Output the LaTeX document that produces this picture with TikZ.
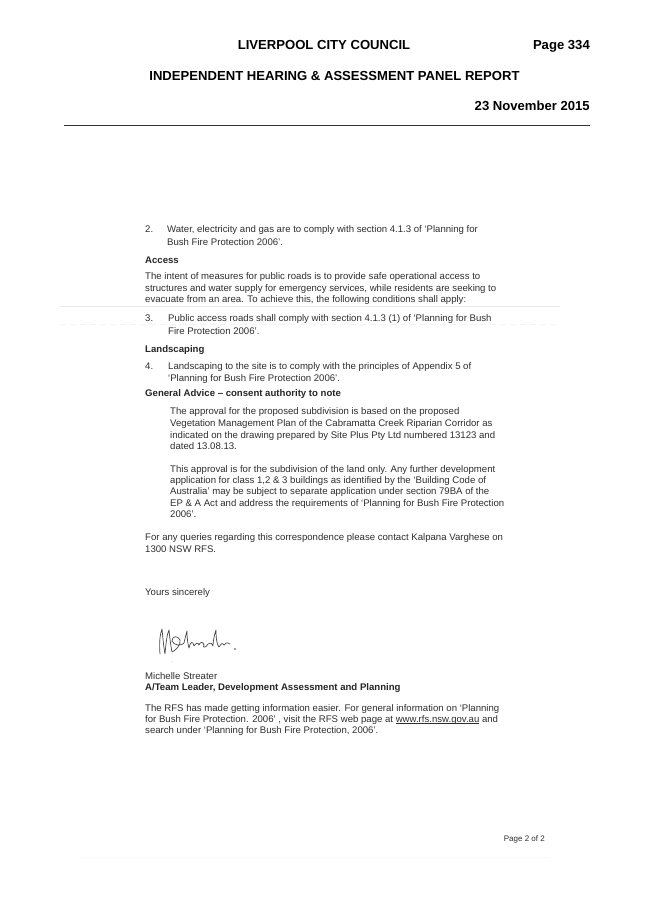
\documentclass[tikz,border=0pt]{standalone}
\usepackage{fontspec}
\setmainfont{Liberation Sans}
\newcommand{\myul}[1]{\setbox0\hbox{#1}\rlap{\rule[-1.3pt]{\wd0}{0.5pt}}\box0\relax}
\begin{document}
\begin{tikzpicture}[x=1pt,y=-1pt,
  hd/.style={font=\fontsize{13.1}{15}\selectfont\bfseries, inner sep=0pt, text=black},
  tx/.style={font=\fontsize{9.6}{11}\selectfont, inner sep=0pt, anchor=base west, text=black!82},
  bx/.style={font=\fontsize{9.6}{11}\selectfont\bfseries, inner sep=0pt, anchor=base west, text=black!85}]
\useasboundingbox[fill=white] (0,0) rectangle (653,923);
% header
\node[hd,anchor=base] (h1) at (324,50) {LIVERPOOL CITY COUNCIL};
\node[hd,anchor=base east] (h2) at (590,50) {Page 334};
\node[hd,anchor=base] (h3) at (334.5,81) {INDEPENDENT HEARING \& ASSESSMENT PANEL REPORT};
\node[hd,anchor=base east] (h4) at (590,111) {23 November 2015};
\draw[line width=1pt, black!80] (64,126) -- (590,126);
% scan artifacts
\draw[black!8, line width=0.6pt] (60,306) -- (560,306);
\draw[black!5, line width=0.6pt, dash pattern=on 6pt off 4pt] (60,324) -- (560,324);
% body
\node[tx] (n2) at (145,232.5) {2.};
\node[tx] (l1) at (167,232.5) {Water, electricity and gas are to comply with section 4.1.3 of `Planning for};
\node[tx] (l2) at (167,245) {Bush Fire Protection 2006'.};
\node[bx] (acc) at (145,263.5) {Access};
\node[tx] (l3) at (145,279.5) {The intent of measures for public roads is to provide safe operational access to};
\node[tx] (l4) at (145,291) {structures and water supply for emergency services, while residents are seeking to};
\node[tx] (l5) at (145,302.5) {evacuate from an area. To achieve this, the following conditions shall apply:};
\node[tx] (n3) at (145,321.5) {3.};
\node[tx] (l6) at (168,321.5) {Public access roads shall comply with section 4.1.3 (1) of `Planning for Bush};
\node[tx] (l7) at (168,334) {Fire Protection 2006'.};
\node[bx] (land) at (145,352) {Landscaping};
\node[tx] (n4) at (145,369) {4.};
\node[tx] (l8) at (168,369) {Landscaping to the site is to comply with the principles of Appendix 5 of};
\node[tx] (l9) at (168,381.5) {`Planning for Bush Fire Protection 2006'.};
\node[bx] (gen) at (145,396.5) {General Advice -- consent authority to note};
\node[tx] (p1) at (170,414.5) {The approval for the proposed subdivision is based on the proposed};
\node[tx] (p2) at (170,426.3) {Vegetation Management Plan of the Cabramatta Creek Riparian Corridor as};
\node[tx] (p3) at (170,438) {indicated on the drawing prepared by Site Plus Pty Ltd numbered 13123 and};
\node[tx] (p4) at (170,449.5) {dated 13.08.13.};
\node[tx] (q1) at (170,472) {This approval is for the subdivision of the land only. Any further development};
\node[tx] (q2) at (170,483.5) {application for class 1,2 \& 3 buildings as identified by the `Building Code of};
\node[tx] (q3) at (170,494.8) {Australia' may be subject to separate application under section 79BA of the};
\node[tx] (q4) at (170,506) {EP \& A Act and address the requirements of `Planning for Bush Fire Protection};
\node[tx] (q5) at (170,517.5) {2006'.};
\node[tx] (r1) at (145,540.7) {For any queries regarding this correspondence please contact Kalpana Varghese on};
\node[tx] (r2) at (145,552) {1300 NSW RFS.};
\node[tx] (ys) at (145,595) {Yours sincerely};
% signature
\begin{scope}[shift={(0,13)}]
\draw[black!72, line width=0.7pt, line join=round, line cap=round]
  (160,641) .. controls (159,630) and (160,621) .. (162,616)
  .. controls (163,627) and (164,636) .. (165,641)
  .. controls (166,630) and (167,621) .. (169,617)
  .. controls (170,627) and (171,634) .. (172,639)
  .. controls (176,637) and (181,632) .. (180,627)
  .. controls (178,622) and (172,623) .. (172,628)
  .. controls (174,633) and (182,633) .. (184,630)
  .. controls (185,626) and (186,621) .. (187,618)
  .. controls (187,626) and (188,632) .. (189,635)
  .. controls (190,629) and (193,627) .. (194,633)
  .. controls (196,630) and (198,629) .. (199,632)
  .. controls (200,629) and (203,628) .. (204,632)
  .. controls (202,635) and (206,635) .. (208,631)
  .. controls (210,629) and (212,630) .. (213,633)
  .. controls (213,627) and (215,620) .. (216,617)
  .. controls (216,626) and (217,632) .. (219,634)
  .. controls (221,631) and (222,629) .. (224,632)
  .. controls (225,630) and (227,629) .. (230,631);
\fill[black!72] (235,636) circle (0.8);
\end{scope}
\fill[black!35] (172,662) circle (0.5);
\node[tx] (ms) at (145,679) {Michelle Streater};
\node[bx] (tl) at (145,690.3) {A/Team Leader, Development Assessment and Planning};
\node[tx] (s1) at (145,711.3) {The RFS has made getting information easier. For general information on `Planning};
\node[tx] (s2) at (145,722.3) {for Bush Fire Protection. 2006' , visit the RFS web page at \myul{www.rfs.nsw.gov.au} and};
\node[tx] (s3) at (145,733.5) {search under `Planning for Bush Fire Protection, 2006'.};
% footer
\node[tx, anchor=base east, font=\fontsize{8}{10}\selectfont] (pg) at (545,841) {Page 2 of 2};
\draw[yellow!15, line width=0.8pt] (80,857) -- (550,857);
\end{tikzpicture}
\end{document}
